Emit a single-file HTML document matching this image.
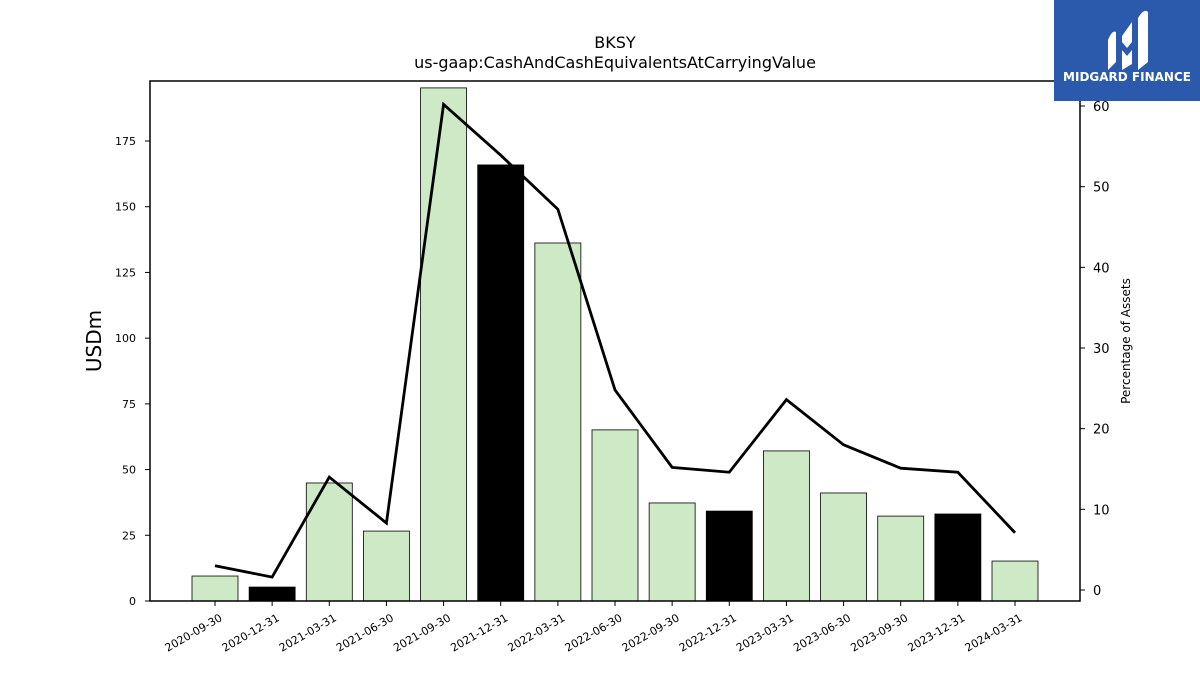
<!DOCTYPE html>
<html><head><meta charset="utf-8"><style>
body{margin:0;background:#fff;}
svg text{font-family:"DejaVu Sans","Liberation Sans",sans-serif;}
</style></head><body>
<svg id="c" width="1200" height="675" xmlns="http://www.w3.org/2000/svg">
<text x="615" y="48" font-size="16" text-anchor="middle">BKSY</text>
<text x="615" y="68" font-size="16" text-anchor="middle">us-gaap:CashAndCashEquivalentsAtCarryingValue</text>
<text x="101" y="341" font-size="20" text-anchor="middle" transform="rotate(-90 101 341)">USDm</text>
<text x="1130" y="341" font-size="12" text-anchor="middle" transform="rotate(-90 1130 341)">Percentage of Assets</text>
<g id="bars"></g>
<g id="axes"></g>
<rect x="150" y="81" width="930" height="520" fill="none" stroke="#000" stroke-width="1.5"/>
<g>
<rect x="1054" y="0" width="146" height="101" fill="#2b5aad"/>
<path d="M1108 40 Q1112 30 1116 32 L1116 62 L1108 70 Z M1122 36 L1132 22 L1132 42 L1127 48 L1122 42 Z M1122 50 L1127 56 L1132 50 L1132 64 L1122 70 Z M1138 18 Q1144 8 1148 12 L1148 62 L1138 70 Z" fill="#fff"/>
<text x="1127" y="81" font-size="12" font-weight="bold" fill="#fff" text-anchor="middle">MIDGARD FINANCE</text>
</g>
</svg>
<script>
const categories=["2020-09-30","2020-12-31","2021-03-31","2021-06-30","2021-09-30","2021-12-31","2022-03-31","2022-06-30","2022-09-30","2022-12-31","2023-03-31","2023-06-30","2023-09-30","2023-12-31","2024-03-31"];
const cashValues=[9.5,5.3,44.9,26.6,195.2,165.9,136.2,65.1,37.3,34.2,57.1,41.1,32.3,33.1,15.2];
const pctAssets=[3.0,1.6,14.0,8.3,60.2,53.9,47.2,24.8,15.2,14.6,23.6,18.0,15.1,14.6,7.1];
const leftTicks=[0,25,50,75,100,125,150,175];
const rightTicks=[0,10,20,30,40,50,60];
const NS="http://www.w3.org/2000/svg";
const yL=v=>601-v*(460/175);
const yR=v=>590-v*(484/60);
const xC=i=>215+i*57.143;
function mk(t,a,p,txt){const e=document.createElementNS(NS,t);for(const k in a)e.setAttribute(k,a[k]);if(txt!==undefined)e.textContent=txt;p.appendChild(e);return e;}
const bars=document.getElementById('bars'),axes=document.getElementById('axes'),svg=document.getElementById('c');
cashValues.forEach((v,i)=>{
 const dec=categories[i].endsWith("12-31");
 const r=mk('rect',{x:xC(i)-23,y:yL(v),width:46,height:601-yL(v),fill:dec?'#000':'#cde9c5',stroke:'#000','stroke-width':0.8},bars);
 
 
 mk('line',{x1:xC(i),x2:xC(i),y1:601,y2:606,stroke:'#000'},axes);
 const t=mk('text',{x:xC(i)+8,y:620,'font-size':11,'text-anchor':'end',transform:`rotate(-30 ${xC(i)+8} 620)`},axes,categories[i]);
 
 
});
leftTicks.forEach(v=>{
 mk('line',{x1:145,x2:150,y1:yL(v),y2:yL(v),stroke:'#000'},axes);
 const t=mk('text',{x:136,y:yL(v)+4,'font-size':11,'text-anchor':'end'},axes,v);
 
 
});
rightTicks.forEach(v=>{
 mk('line',{x1:1080,x2:1085,y1:yR(v),y2:yR(v),stroke:'#000'},axes);
 const t=mk('text',{x:1093,y:yR(v)+5,'font-size':13},axes,v);
 
 
});
const line=mk('polyline',{points:pctAssets.map((v,i)=>xC(i)+','+yR(v)).join(' '),fill:'none',stroke:'#000','stroke-width':2.8},svg);


</script>
</body></html>
